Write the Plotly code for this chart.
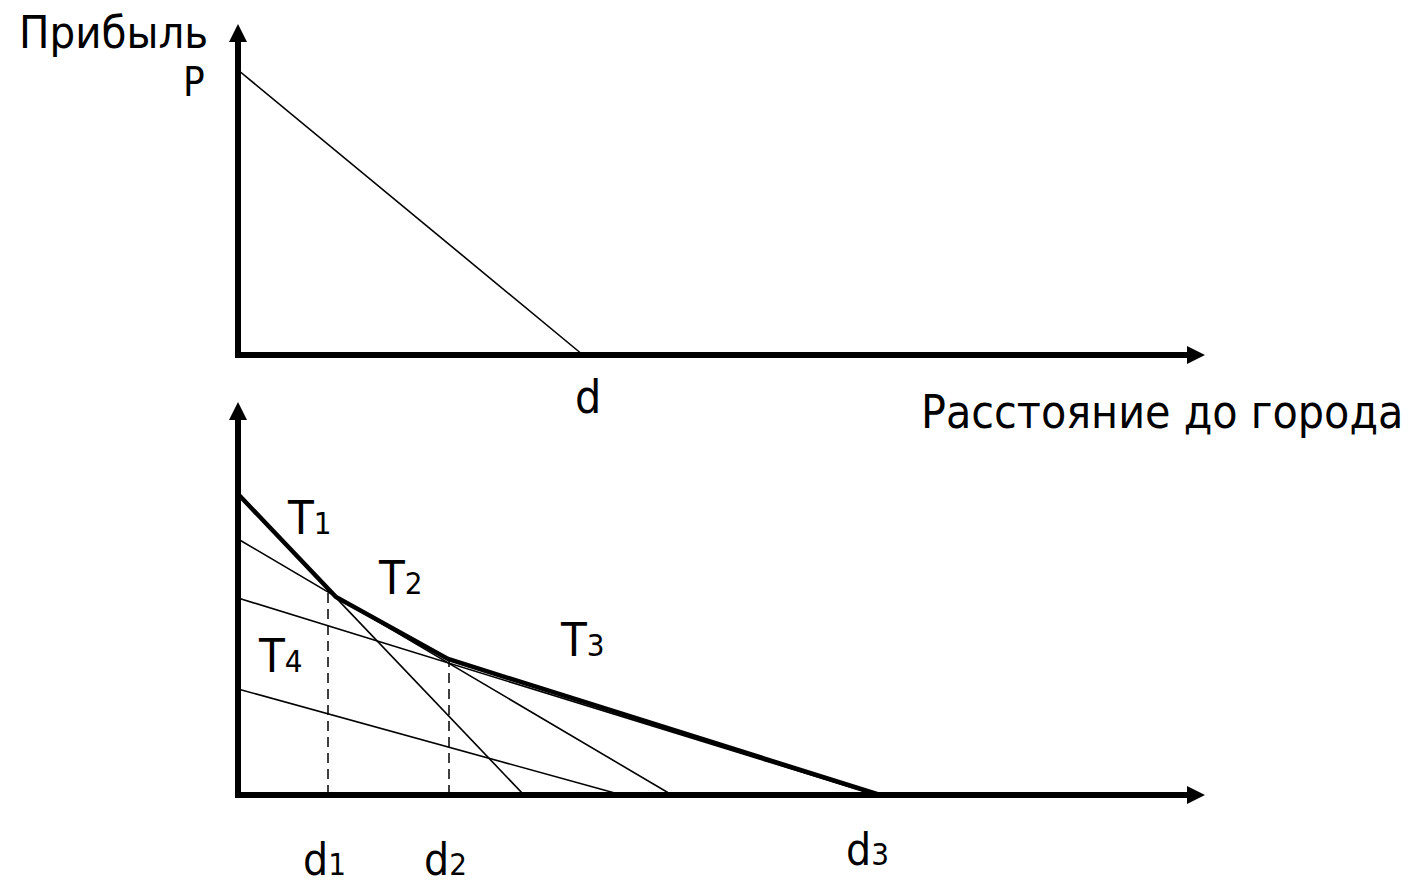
"""Profit vs distance to the city: single profit line and the envelope of T1..T4."""

import plotly.graph_objects as go

# --- data (1 unit ~ 100 px on both axes) ---
# top panel: one profit line from P down to d
top_x = [0.0, 3.45]
top_y = [2.85, 0.0]

# bottom panel: four profit lines T1..T4 (from y intercept to x intercept)
line_names = ["T1", "T2", "T3", "T4"]
line_x = [[0.0, 2.86], [0.0, 4.34], [0.0, 6.38], [0.0, 3.84]]
line_y = [[3.00, 0.0], [2.56, 0.0], [1.97, 0.0], [1.06, 0.0]]

# upper envelope (bold)
env_x = [0.0, 0.98, 2.10, 6.42]
env_y = [3.01, 1.98, 1.36, 0.0]

# dashed drop lines at d1, d2
drop_x = [0.90, 2.11]
drop_top = [2.07, 1.35]

W, H = 1410, 886
FONT = "DejaVu Sans Condensed, DejaVu Sans, sans-serif"
INK = "#000000"


def px(x):
    return x / W


def py(y):
    return 1 - y / H


fig = go.Figure()

fig.add_trace(go.Scatter(x=top_x, y=top_y, mode="lines",
                         line=dict(color=INK, width=1.6), xaxis="x", yaxis="y"))

for xs, ys in zip(line_x, line_y):
    fig.add_trace(go.Scatter(x=xs, y=ys, mode="lines",
                             line=dict(color=INK, width=1.6), xaxis="x2", yaxis="y2"))

for x0, y1 in zip(drop_x, drop_top):
    fig.add_trace(go.Scatter(x=[x0, x0], y=[0, y1], mode="lines",
                             line=dict(color=INK, width=1.5, dash="10px,6px"),
                             xaxis="x2", yaxis="y2"))

fig.add_trace(go.Scatter(x=env_x, y=env_y, mode="lines",
                         line=dict(color=INK, width=4.5), xaxis="x2", yaxis="y2"))

# axes with arrowheads, drawn as shapes
shapes = []
for xr, yr, ytip in [("x", "y", 3.31), ("x2", "y2", 3.93)]:
    xtip = 9.67
    shapes += [
        dict(type="line", xref=xr, yref=yr, x0=0, y0=-0.03, x1=0, y1=ytip - 0.12,
             line=dict(color=INK, width=6)),
        dict(type="line", xref=xr, yref=yr, x0=-0.03, y0=0, x1=xtip - 0.12, y1=0,
             line=dict(color=INK, width=6)),
        dict(type="path", xref=xr, yref=yr, fillcolor=INK, line=dict(width=0),
             path=f"M {-0.09} {ytip - 0.18} L 0 {ytip} L {0.09} {ytip - 0.18} Z"),
        dict(type="path", xref=xr, yref=yr, fillcolor=INK, line=dict(width=0),
             path=f"M {xtip - 0.18} {-0.09} L {xtip} 0 L {xtip - 0.18} {0.09} Z"),
    ]


def sub(base, digit, size=31):
    return f'{base}<span style="font-size:{size}px">{digit}</span>'


labels = [
    ("Прибыль", 113, 32, 45),
    ("P", 194, 82, 40),
    ("d", 588, 397, 46),
    ("Расстояние до города", 1162, 412, 46),
    (sub("T", "1"), 309, 517, 47),
    (sub("T", "2"), 400, 577, 47),
    (sub("T", "3"), 582, 639, 47),
    (sub("T", "4"), 280, 655, 47),
    (sub("d", "1"), 324, 859, 44),
    (sub("d", "2"), 445, 859, 44),
    (sub("d", "3"), 867, 849, 44),
]
annotations = [
    dict(text=t, x=px(x), y=py(y), xref="paper", yref="paper", showarrow=False,
         xanchor="center", yanchor="middle", font=dict(size=s, color=INK, family=FONT))
    for t, x, y, s in labels
]

ax_common = dict(visible=False, showgrid=False, zeroline=False, fixedrange=True)
fig.update_layout(
    width=W, height=H,
    margin=dict(l=0, r=0, t=0, b=0),
    paper_bgcolor="white", plot_bgcolor="white",
    showlegend=False,
    font=dict(family=FONT, color=INK),
    xaxis=dict(domain=[px(218), px(1220)], range=[-0.2, 9.82], **ax_common),
    yaxis=dict(domain=[py(365), py(15)], range=[-0.10, 3.40], **ax_common),
    xaxis2=dict(domain=[px(218), px(1220)], range=[-0.2, 9.82], anchor="y2", **ax_common),
    yaxis2=dict(domain=[py(805), py(395)], range=[-0.10, 4.00], anchor="x2", **ax_common),
    shapes=shapes,
    annotations=annotations,
)

fig.write_html("out.html", config={"displayModeBar": False},
               post_script="document.body.style.margin='0';")
